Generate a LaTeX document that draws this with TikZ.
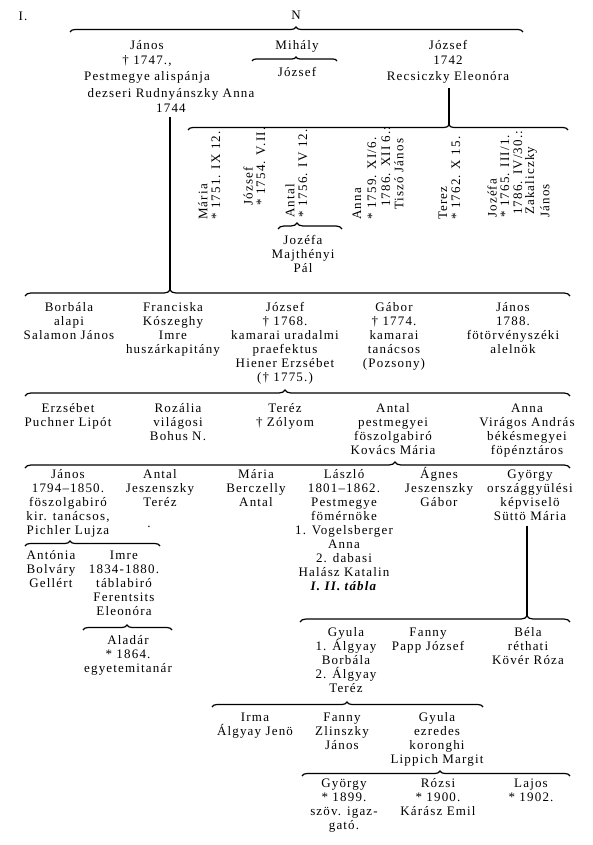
\documentclass[tikz,border=0pt]{standalone}
\usepackage{fontspec}
\setmainfont{Liberation Serif}[LetterSpace=9]
\usetikzlibrary{decorations.pathreplacing}
\newcommand\fs{\rule{0pt}{12pt}}
\tikzset{
  txt/.style={font=\fontsize{13}{14}\selectfont, align=center, inner sep=0pt, anchor=north, yshift=12pt},
  txtw/.style={txt, font=\fontsize{13}{15.5}\selectfont},
  rtxt/.style={font=\fontsize{13}{14}\selectfont, inner sep=0pt, rotate=90, anchor=west},
  vline/.style={line width=1.4pt},
  brline/.style={line width=1.2pt}
}
\newcommand\famBrace[6]{%
  \pgfmathsetmacro\famasp{(#5-#3)/(#4-#3)}%
  \coordinate (#2-l) at (#3,#6);
  \coordinate (#2-r) at (#4,#6);
  \coordinate (#2-t) at (#5,#6-#1);
  \draw[brline, decorate, decoration={brace, amplitude=#1pt, aspect=\famasp}] (#2-l) -- (#2-r);
}
\begin{document}
\begin{tikzpicture}[x=1pt,y=-1pt]
\useasboundingbox (0,0) rectangle (593,845);
\fill[white] (0,0) rectangle (593,845);

\node[txt] (title) at (23,20) {\fs I.};
\node[txt] (N) at (296,19) {\fs N};
\famBrace{5}{bA}{70}{523}{296}{32}

% row 1
\node[txtw] (janos1) at (147,49) {\fs János\\† 1747.,\\Pestmegye alispánja};
\node[txtw] (janos1b) at (171,97) {\fs dezseri Rudnyánszky Anna\\1744};
\node[txt] (mihaly) at (297,49) {\fs Mihály};
\famBrace{4}{bB}{252}{337}{296}{61}
\node[txt] (mihalyJ) at (297,76) {\fs József};
\node[txtw] (jozsef0) at (448,49) {\fs József\\1742\\Recsiczky Eleonóra};

% children of József
\famBrace{5}{bC}{188}{568}{449}{130}
\coordinate (v1) at (bC-t |- jozsef0.south);
\draw[vline] ([yshift=-5pt]v1) -- (bC-t);

\node[rtxt] (maria) at (203,220) {Mária};
\node[rtxt] (mariaD) at (216,220) {* 1751. IX 12.};
\node[rtxt] (jozsefR) at (248,206) {József};
\node[rtxt] (jozsefRD) at (261,206) {* 1754. V.II.};
\node[rtxt] (antalR) at (290,218) {Antal};
\node[rtxt] (antalRD) at (303,218) {* 1756. IV 12.};
\node[rtxt] (annaR) at (357,220) {Anna};
\node[rtxt] (annaR2) at (372,220) {* 1759. XI/6.};
\node[rtxt] (annaR3) at (386,207) {1786. XII 6.:};
\node[rtxt] (annaR4) at (399,210) {Tiszó János};
\node[rtxt] (terezR) at (443,220) {Terez};
\node[rtxt] (terezRD) at (456,220) {* 1762. X 15.};
\node[rtxt] (jozefaR) at (492,218) {Jozéfa};
\node[rtxt] (jozefaR2) at (505,218) {* 1765. III/1.};
\node[rtxt] (jozefaR3) at (518,215) {1786. IV/30.:};
\node[rtxt] (jozefaR4) at (531,215) {Zakaliczky};
\node[rtxt] (jozefaR5) at (545,218) {János};

\famBrace{6}{bD}{278}{342}{297}{229}
\node[txt] (jozefaM) at (303,244) {\fs Jozéfa\\Majthényi\\Pál};

% row 2
\famBrace{6}{bE}{25}{570}{170}{296}
\coordinate (v2) at (bE-t |- janos1b.south);
\draw[vline] ([yshift=-4pt]v2) -- (bE-t);
\node[txt] (borbala) at (69,311) {\fs Borbála\\alapi\\Salamon János};
\node[txt] (franciska) at (173,311) {\fs Franciska\\Kószeghy\\Imre\\huszárkapitány};
\node[txt] (jozsef1) at (285,311) {\fs József\\† 1768.\\kamarai uradalmi\\praefektus\\Hiener Erzsébet\\(† 1775.)};
\node[txt] (gabor) at (394,311) {\fs Gábor\\† 1774.\\kamarai\\tanácsos\\(Pozsony)};
\node[txt] (janos2) at (513,311) {\fs János\\1788.\\fötörvényszéki\\alelnök};

% row 3
\famBrace{6}{bF}{25}{570}{285}{396}
\node[txt] (erzsebet) at (68,412) {\fs Erzsébet\\Puchner Lipót};
\node[txt] (rozalia) at (178,412) {\fs Rozália\\világosi\\Bohus N.};
\node[txt] (terez) at (285,412) {\fs Teréz\\† Zólyom};
\node[txt] (antal) at (393,412) {\fs Antal\\pestmegyei\\föszolgabiró\\Kovács Mária};
\node[txt] (anna) at (527,412) {\fs Anna\\Virágos András\\békésmegyei\\föpénztáros};

% row 4
\famBrace{6}{bG}{25}{570}{395}{468}
\node[txt] (janos3) at (68,478) {\fs János\\1794–1850.\\föszolgabiró\\kir. tanácsos,\\Pichler Lujza};
\node[txt] (antal2) at (160,478) {\fs Antal\\Jeszenszky\\Teréz};
\node[txt] (dot) at (149,527) {\fs .};
\node[txt] (maria2) at (256,478) {\fs Mária\\Berczelly\\Antal};
\node[txt] (laszlo) at (344,478) {\fs László\\1801–1862.\\Pestmegye\\fömérnöke\\1. Vogelsberger\\Anna\\2. dabasi\\Halász Katalin\\\textbf{\textit{I. II. tábla}}};
\node[txt] (agnes) at (439,478) {\fs Ágnes\\Jeszenszky\\Gábor};
\node[txt] (gyorgy) at (530,478) {\fs György\\országgyülési\\képviselö\\Süttö Mária};

% row 5 (János)
\famBrace{5}{bH}{25}{160}{70}{546}
\node[txt] (antonia) at (51,559) {\fs Antónia\\Bolváry\\Gellért};
\node[txt] (imre) at (124,559) {\fs Imre\\1834-1880.\\táblabiró\\Ferentsits\\Eleonóra};
\famBrace{5}{bI}{83}{172}{127}{630}
\node[txt] (aladar) at (128,644) {\fs Aladár\\* 1864.\\egyetemitanár};

% György's children
\famBrace{6}{bJ}{300}{570}{527}{622}
\coordinate (v3) at (bJ-t |- gyorgy.south);
\draw[vline] ([yshift=-5pt]v3) -- (bJ-t);
\node[txt] (gyula) at (346,636) {\fs Gyula\\1. Álgyay\\Borbála\\2. Álgyay\\Teréz};
\node[txt] (fanny) at (428,636) {\fs Fanny\\Papp József};
\node[txt] (bela) at (528,636) {\fs Béla\\réthati\\Kövér Róza};

% Gyula's children
\famBrace{5}{bK}{212}{483}{347}{707}
\node[txt] (irma) at (255,721) {\fs Irma\\Álgyay Jenö};
\node[txt] (fanny2) at (342,721) {\fs Fanny\\Zlinszky\\János};
\node[txt] (gyula2) at (437,721) {\fs Gyula\\ezredes\\koronghi\\Lippich Margit};

% Gyula jr's children
\famBrace{5}{bL}{302}{570}{440}{776}
\node[txt] (gyorgy2) at (344,787) {\fs György\\* 1899.\\szöv. igaz-\\gató.};
\node[txt] (rozsi) at (438,787) {\fs Rózsi\\* 1900.\\Kárász Emil};
\node[txt] (lajos) at (531,787) {\fs Lajos\\* 1902.};
\end{tikzpicture}
\end{document}
